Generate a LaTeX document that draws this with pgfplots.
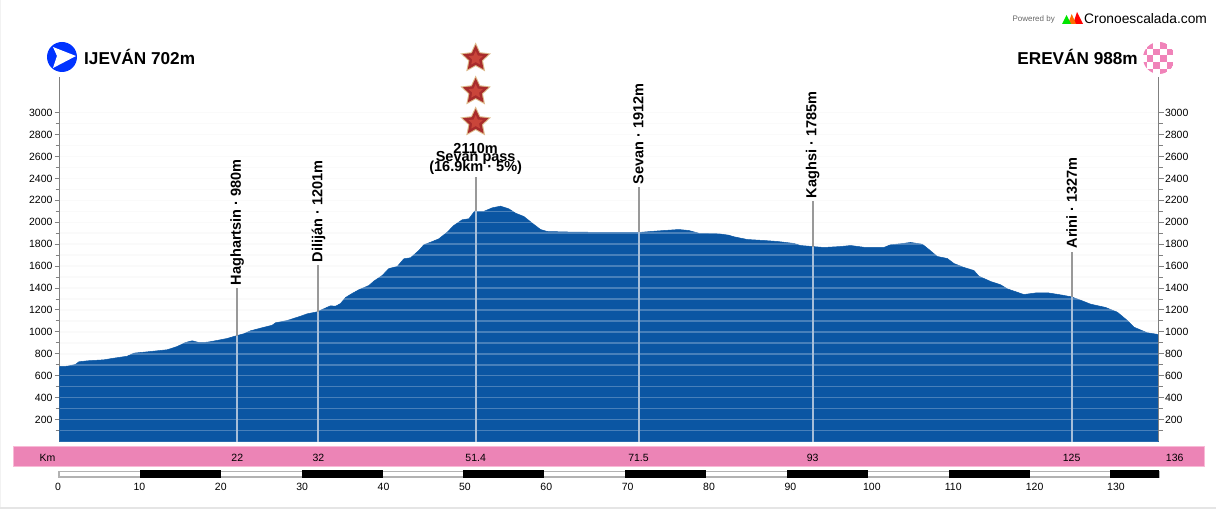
\documentclass[border=0pt]{standalone}
\usepackage{pgfplots}
\pgfplotsset{compat=1.18}
\usepackage{fontspec}
\setmainfont{Liberation Sans}
\definecolor{prof}{HTML}{0B56A3}
\definecolor{axgray}{HTML}{808080}
\definecolor{mk}{HTML}{999999}
\definecolor{mkin}{HTML}{A6BED9}
\definecolor{band}{HTML}{EC84B6}
\definecolor{bandedge}{HTML}{F8BAD6}
\definecolor{chk}{HTML}{F083B9}
\definecolor{stargold}{HTML}{DDB98A}
\definecolor{starred}{HTML}{A82C2C}
\definecolor{starin}{HTML}{C9453A}
\newcommand{\fs}[1]{\fontsize{#1}{#1}\selectfont}
\pgfdeclareplotmark{fstar}{%
  \pgfpathmoveto{\pgfpointpolar{90}{\pgfplotmarksize}}%
  \pgfpathlineto{\pgfpointpolar{126}{0.48\pgfplotmarksize}}%
  \pgfpathlineto{\pgfpointpolar{162}{\pgfplotmarksize}}%
  \pgfpathlineto{\pgfpointpolar{198}{0.48\pgfplotmarksize}}%
  \pgfpathlineto{\pgfpointpolar{234}{\pgfplotmarksize}}%
  \pgfpathlineto{\pgfpointpolar{270}{0.48\pgfplotmarksize}}%
  \pgfpathlineto{\pgfpointpolar{306}{\pgfplotmarksize}}%
  \pgfpathlineto{\pgfpointpolar{342}{0.48\pgfplotmarksize}}%
  \pgfpathlineto{\pgfpointpolar{18}{\pgfplotmarksize}}%
  \pgfpathlineto{\pgfpointpolar{54}{0.48\pgfplotmarksize}}%
  \pgfpathclose\pgfusepathqfill}
\pgfplotstableread{
km m
0 684
0.95 687
1.98 703
2.39 727
3.43 736
5.48 745
6.72 760
8.38 778
9.2 806
10.85 818
13.33 837
14.57 867
15.59 903
16.42 919
17.24 903
18.28 906
19.52 922
20.75 940
21.99 967
22.81 983
23.64 1010
24.88 1034
26.32 1061
26.73 1083
28.18 1104
29.83 1143
30.66 1165
31.89 1183
32.71 1211
33.54 1238
34.16 1234
34.78 1259
35.4 1314
36.2 1350
37.04 1384
38.28 1423
38.9 1463
39.94 1515
40.76 1578
41.8 1597
42.61 1667
43.44 1676
44.47 1743
45.09 1795
45.92 1818
46.94 1849
47.98 1910
48.8 1971
49.84 2023
50.66 2032
51.36 2101
52.5 2099
53.55 2132
54.58 2147
55.6 2123
56.44 2083
57.46 2053
58.5 1992
59.53 1934
60.36 1916
63.65 1910
69.43 1907
71.7 1907
73.14 1916
74.79 1925
76.65 1934
77.88 1925
79.12 1900
81.6 1895
82.83 1882
83.45 1868
85.1 1843
87.16 1834
88.82 1825
90.88 1807
91.7 1788
93.15 1779
94.6 1770
96.66 1779
97.9 1788
99.75 1770
102 1770
102.84 1795
104.08 1804
105.32 1816
106.77 1800
107.59 1752
108.62 1688
109.86 1670
110.68 1624
111.92 1588
113.16 1560
113.77 1508
115.22 1460
116.46 1430
117.28 1393
119.34 1341
121 1357
122.24 1357
123.88 1338
125.2 1320
126.36 1289
127.6 1253
129.45 1223
130.9 1180
132.14 1104
132.96 1043
134.61 992
136 976
}\profile
\begin{document}
\begin{tikzpicture}
\path[use as bounding box] (0pt,0pt) rectangle (1216pt,509pt);
% frame hints
\fill[black!10] (0pt,0.5pt) rectangle (1216pt,2.5pt);
\fill[black!5] (0pt,2.5pt) rectangle (0.7pt,509pt);
% km band
\fill[band,draw=bandedge,line width=1pt] (13.5pt,42.5pt) rectangle (1204.5pt,62.5pt);
% main axis, left ticks
\begin{axis}[
  at={(59.5pt,67.5pt)}, anchor=south west, scale only axis,
  width=1099pt, height=364pt,
  xmin=0, xmax=136, ymin=0, ymax=3321,
  axis x line=none, axis y line*=left,
  clip=false,
  axis line style={axgray,line width=1pt,-},
  tick style={axgray,line width=1pt},
  tick align=outside,
  major tick length=5pt, minor tick length=4pt,
  ytick={200,400,...,3000},
  minor ytick={100,300,...,2900},
  tick label style={font=\fs{10.5}, /pgf/number format/assume math mode=true, /pgf/number format/1000 sep={}},
  yticklabel style={xshift=1.5pt},
]
\pgfplotsinvokeforeach{100,200,...,3000}{
  \addplot[draw=black!2.5,line width=1.5pt,forget plot] coordinates {(0,#1) (136,#1)};
}
\addplot[fill=prof,draw=prof,line width=0.5pt] table[x=km,y=m] {\profile} \closedcycle;
\pgfplotsinvokeforeach{100,200,...,3000}{
  \addplot[draw=white,opacity=0.25,line width=1.5pt,forget plot] coordinates {(0.1,#1) (135.9,#1)};
}
% markers: lower part inside the profile, upper part above it
\addplot[mkin,line width=2pt] coordinates {(22,0) (22,967)};
\addplot[mk,line width=2pt] coordinates {(22,967) (22,1396)};
\addplot[mkin,line width=2pt] coordinates {(32.05,0) (32.05,1185)};
\addplot[mk,line width=2pt] coordinates {(32.05,1185) (32.05,1606)};
\addplot[mkin,line width=2pt] coordinates {(51.5,0) (51.5,2101)};
\addplot[mk,line width=2pt] coordinates {(51.5,2101) (51.5,2409)};
\addplot[mkin,line width=2pt] coordinates {(71.65,0) (71.65,1907)};
\addplot[mk,line width=2pt] coordinates {(71.65,1907) (71.65,2318)};
\addplot[mkin,line width=2pt] coordinates {(93.2,0) (93.2,1779)};
\addplot[mk,line width=2pt] coordinates {(93.2,1779) (93.2,2190)};
\addplot[mkin,line width=2pt] coordinates {(125.25,0) (125.25,1320)};
\addplot[mk,line width=2pt] coordinates {(125.25,1320) (125.25,1733)};
% stars
\addplot[only marks,mark=fstar,mark size=16pt,mark options={fill=stargold,draw=none}] coordinates {(51.5,3495) (51.5,3193) (51.5,2911)};
\addplot[only marks,mark=fstar,mark size=13.5pt,mark options={fill=starred,draw=none}] coordinates {(51.5,3495) (51.5,3193) (51.5,2911)};
\addplot[only marks,mark=fstar,mark size=7.5pt,mark options={fill=starin,draw=none}] coordinates {(51.5,3495) (51.5,3193) (51.5,2911)};
% rotated labels
\tikzset{mlab/.style={rotate=90,anchor=west,inner sep=0pt,font=\fs{14.5}\bfseries}}
\node[mlab] at (axis cs:22,1425) {Haghartsin · 980m};
\node[mlab] at (axis cs:32.05,1635) {Diliján · 1201m};
\node[mlab] at (axis cs:71.65,2345) {Sevan · 1912m};
\node[mlab] at (axis cs:93.2,2218) {Kaghsi · 1785m};
\node[mlab] at (axis cs:125.25,1760) {Arini · 1327m};
\tikzset{plab/.style={inner sep=0pt,font=\fs{14.5}\bfseries}}
\node[plab] at (axis cs:51.5,2675) {2110m};
\node[plab] at (axis cs:51.5,2585) {Sevan pass};
\node[plab] at (axis cs:51.5,2495) {(16.9km · 5\%)};
% band labels
\tikzset{blab/.style={inner sep=0pt,font=\fs{10.5}}}
\node[blab] at (axis cs:-1.5,-146) {Km};
\node[blab] at (axis cs:22,-146) {22};
\node[blab] at (axis cs:32.05,-146) {32};
\node[blab] at (axis cs:51.5,-146) {51.4};
\node[blab] at (axis cs:71.65,-146) {71.5};
\node[blab] at (axis cs:93.2,-146) {93};
\node[blab] at (axis cs:125.25,-146) {125};
\node[blab] at (axis cs:138,-146) {136};
\end{axis}
% right ticks
\begin{axis}[
  at={(59.5pt,67.5pt)}, anchor=south west, scale only axis,
  width=1099pt, height=364pt,
  xmin=0, xmax=136, ymin=0, ymax=3321,
  axis x line=none, axis y line*=right,
  axis line style={axgray,line width=1pt,-},
  tick style={axgray,line width=1pt},
  tick align=outside,
  major tick length=5pt, minor tick length=4pt,
  ytick={200,400,...,3000},
  minor ytick={100,300,...,2900},
  tick label style={font=\fs{10.5}, /pgf/number format/assume math mode=true, /pgf/number format/1000 sep={}},
  yticklabel style={xshift=-2pt},
]
\addplot[draw=none] coordinates {(0,0)};
\end{axis}
% km scale bar
\begin{axis}[
  at={(59pt,32pt)}, anchor=south west, scale only axis,
  width=1100pt, height=6pt,
  xmin=0, xmax=136, ymin=0, ymax=1,
  hide axis, clip=false,
]
\addplot[draw=black!30,fill=white,line width=1.6pt] coordinates {(0,0.05) (0,0.95) (136,0.95) (136,0.05)} --cycle;
\pgfplotsinvokeforeach{10,30,...,110}{
  \addplot[fill=black,draw=none] coordinates {(#1,-0.1) (#1,1.1) ({#1+10},1.1) ({#1+10},-0.1)} --cycle;
}
\addplot[fill=black,draw=none] coordinates {(130,-0.1) (130,1.1) (136,1.1) (136,-0.1)} --cycle;
\end{axis}
% km scale labels
\begin{axis}[
  at={(58pt,29pt)}, anchor=south west, scale only axis,
  width=1058pt, height=1pt,
  xmin=0, xmax=130, ymin=0, ymax=1,
  axis x line=bottom, axis y line=none,
  axis line style={draw=none},
  major tick length=0pt,
  xtick={0,10,...,130},
  tick label style={font=\fs{10.5}, /pgf/number format/assume math mode=true},
]
\addplot[draw=none] coordinates {(0,0)};
\end{axis}
% start icon and title
\fill[blue!80!cyan] (62pt,452pt) circle (15pt);
\fill[white] (53pt,462pt) -- (76pt,453pt) -- (53pt,441pt) -- (57pt,453pt) -- cycle;
\node[anchor=west,inner sep=0pt,font=\fs{17.2}\bfseries] at (84pt,452.5pt) {IJEVÁN 702m};
% finish icon and title
\begin{scope}
\clip (1159pt,451pt) circle (16pt);
\foreach \a in {-3,...,1}{\foreach \b in {-3,...,2}{
  \pgfmathtruncatemacro{\p}{mod(abs(\a+\b),2)}
  \ifnum\p=0
    \pgfmathsetmacro{\xx}{1160+6.6*\a}
    \pgfmathsetmacro{\yy}{447+6.6*\b}
    \fill[chk] (\xx pt,\yy pt) rectangle ++(6.6pt,6.6pt);
  \fi
}}
\end{scope}
\node[anchor=east,inner sep=0pt,font=\fs{17.2}\bfseries] at (1138pt,452.5pt) {EREVÁN 988m};
% logo
\node[anchor=east,inner sep=0pt,font=\fs{8},text=black!60] at (1055pt,490pt) {Powered by};
\fill[red] (1073pt,485pt) -- (1077pt,497pt) -- (1083pt,485pt) -- cycle;
\fill[orange!85!red] (1068pt,485pt) -- (1071.7pt,495pt) -- (1076pt,485pt) -- cycle;
\fill[green!90!black] (1062pt,485pt) -- (1066.5pt,494pt) -- (1071pt,485pt) -- cycle;
\node[anchor=west,inner sep=0pt,font=\fs{13.8}] at (1084pt,490pt) {Cronoescalada.com};
\end{tikzpicture}
\end{document}
